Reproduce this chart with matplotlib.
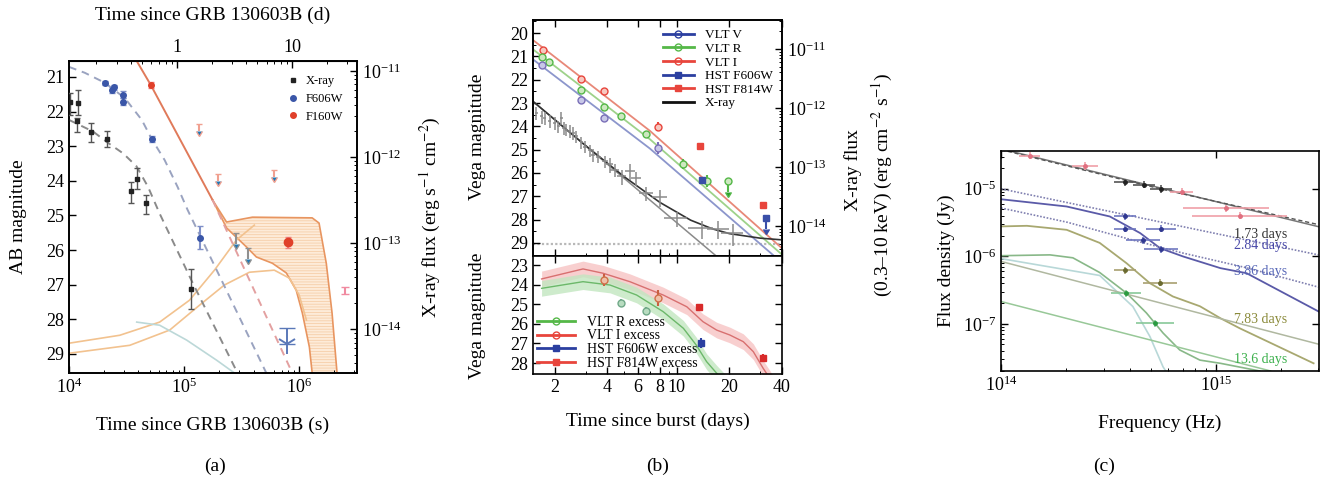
import matplotlib.pyplot as plt
import numpy as np
from matplotlib.ticker import FixedLocator, FuncFormatter, MultipleLocator, NullFormatter, LogLocator
from matplotlib.lines import Line2D

plt.rcParams['font.family'] = ['Liberation Serif', 'DejaVu Serif']
plt.rcParams['mathtext.fontset'] = 'stix'
plt.rcParams['font.size'] = 13
plt.rcParams['hatch.linewidth'] = 0.5

# ---------------- panel (a) data ----------------
xray_a_t = [1.02e4, 1.19e4, 1.17e4, 1.55e4, 2.12e4, 3.42e4, 3.93e4, 4.70e4, 1.15e5]
xray_a_f = [4.4e-12, 4.2e-12, 2.6e-12, 1.97e-12, 1.62e-12, 4.0e-13, 5.5e-13, 2.9e-13, 2.9e-14]
xray_a_lo = [3.1e-12, 3.1e-12, 1.95e-12, 1.49e-12, 1.31e-12, 2.9e-13, 4.2e-13, 2.2e-13, 1.7e-14]
xray_a_hi = [5.5e-12, 6.0e-12, 2.8e-12, 2.5e-12, 2.0e-12, 5.1e-13, 7.4e-13, 3.6e-13, 5.0e-14]
xray_a_lim_t = [2.79e5, 3.61e5]
xray_a_lim_f = [1.3e-13, 8.7e-14]

f606w_t = [2.05e4, 2.34e4, 2.47e4, 2.95e4, 2.97e4, 5.22e4, 1.36e5]
f606w_m = [21.18, 21.38, 21.30, 21.52, 21.71, 22.79, 25.64]
f606w_e = [0.06, 0.08, 0.08, 0.10, 0.10, 0.08, 0.33]
f606w_lim_t = [7.83e5]
f606w_lim_m = [28.25]

f160w_t = [5.12e4]
f160w_m = [21.23]
f160w_e = [0.08]
f160w_late_t = [7.89e5]
f160w_late_m = [25.78]
f160w_late_e = [0.15]
f160w_lim_t = [1.34e5, 1.95e5, 6.03e5]
f160w_lim_m = [22.35, 23.80, 23.70]
late_t = [2.49e6]
late_m = [27.16]
late_e = [0.1]

# model curves (a)
xmod_t = [1.0e4, 1.62e4, 2.19e4, 2.95e4, 3.85e4, 4.85e4, 6.12e4, 1.19e5, 2.92e5]
xmod_f = [2.69e-12, 1.97e-12, 1.45e-12, 1.10e-12, 7.8e-13, 4.5e-13, 2.2e-13, 3.4e-14, 3.05e-15]
bmod_t = [1.0e4, 1.37e4, 2.05e4, 3.05e4, 4.28e4, 5.22e4, 6.76e4, 8.77e4, 1.07e5, 5.16e5]
bmod_m = [20.71, 20.88, 21.17, 21.61, 22.24, 22.79, 23.40, 24.18, 24.84, 29.55]
rmod_t = [3.87e4, 5.12e4, 1.76e5]
rmod_m = [20.54, 21.23, 24.55]
rdash_t = [1.76e5, 8.67e5]
rdash_m = [24.55, 29.55]
kn_up_t = [1.76e5, 2.33e5, 3.91e5, 1.29e6, 1.48e6, 1.71e6, 1.92e6, 2.12e6]
kn_up_m = [24.55, 25.19, 25.05, 25.07, 25.22, 26.38, 27.82, 29.55]
kn_lo_t = [1.76e5, 2.33e5, 3.47e5, 4.23e5, 5.82e5, 7.69e5, 9.38e5, 1.06e6, 1.22e6, 1.29e6]
kn_lo_m = [24.55, 25.36, 25.91, 26.20, 26.38, 26.66, 27.16, 27.82, 28.80, 29.55]
orA_t = [1.0e4, 2.76e4, 6.12e4, 1.11e5, 1.83e5, 2.84e5, 4.06e5]
orA_m = [28.69, 28.46, 28.08, 27.45, 26.58, 25.71, 25.28]
orB_t = [1.0e4, 3.37e4, 7.48e4, 1.36e5, 2.23e5, 3.68e5, 6.05e5, 8.17e5, 9.95e5, 1.15e6]
orB_m = [28.98, 28.75, 28.31, 27.59, 27.01, 26.64, 26.58, 26.81, 27.30, 28.02]
cy_t = [3.87e4, 6.12e4, 1.05e5, 1.91e5, 2.73e5]
cy_m = [28.08, 28.17, 28.60, 29.18, 29.55]

# ---------------- panel (b) data ----------------
vltI_d = [1.71, 2.81, 3.82, 7.82]
vltI_m = [20.72, 21.97, 22.48, 24.02]
vltI_e = [0.08, 0.1, 0.1, 0.2]
vltR_d = [1.70, 1.85, 2.81, 3.82, 4.77, 6.70, 10.8, 14.8]
vltR_m = [21.03, 21.26, 22.46, 23.18, 23.55, 24.32, 25.62, 26.35]
vltR_e = [0.08, 0.08, 0.1, 0.1, 0.1, 0.1, 0.2, 0.25]
vltR_lim_d = [19.7]
vltR_lim_m = [26.35]
vltV_d = [1.70, 2.81, 3.82, 7.82]
vltV_m = [21.36, 22.89, 23.65, 24.92]
vltV_e = [0.08, 0.1, 0.1, 0.25]
f606_d = [13.85]
f606_m = [26.28]
f606_lim_d = [32.2]
f606_lim_m = [27.95]
f814_d = [13.55, 31.3]
f814_m = [24.84, 27.38]
mag_floor = 29.05

xr_d = [1.57, 1.68, 1.75, 1.87, 2.00, 2.09, 2.18, 2.25, 2.33, 2.44, 2.55, 2.66, 2.84, 2.97, 3.17,
        3.31, 3.54, 3.87, 4.13, 4.41, 4.82, 5.38, 5.87, 6.70, 8.0, 9.96, 13.9, 17.3, 20.9]
xr_f13 = [8.2, 7.2, 6.8, 6.0, 5.6, 4.9, 6.8, 4.6, 4.3, 4.1, 3.8, 3.3, 2.6, 2.2, 1.9,
          1.6, 1.5, 1.26, 1.1, 0.89, 0.69, 0.85, 0.65, 0.36, 0.31, 0.135, 0.091, 0.089, 0.076]
xr_fe13 = [2.0, 1.8, 1.7, 1.5, 1.4, 1.2, 1.7, 1.1, 1.0, 1.0, 0.9, 0.8, 0.6, 0.5, 0.45,
           0.4, 0.35, 0.3, 0.3, 0.22, 0.2, 0.25, 0.18, 0.1, 0.1, 0.04, 0.03, 0.03, 0.03]
xr_de = [0.03, 0.03, 0.03, 0.03, 0.04, 0.04, 0.04, 0.04, 0.05, 0.05, 0.05, 0.06, 0.06, 0.08, 0.08,
         0.1, 0.12, 0.15, 0.2, 0.25, 0.3, 0.35, 0.4, 0.6, 0.8, 1.5, 2.3, 2.5, 3.0]

xfit_d = [1.5, 3, 5, 8, 12, 16, 20, 30, 40]
xfit_f = [1.29e-12, 2.3e-13, 6.8e-14, 2.5e-14, 1.25e-14, 8.9e-15, 7.4e-15, 6.2e-15, 5.8e-15]
xpl_d = [1.5, 20]
xpl_f = [1.29e-12, 2.0e-15]
line_d = [1.5, 7, 40]
lineI_m = [20.30, 24.19, 29.23]
lineR_m = [20.70, 24.55, 29.50]
lineV_m = [21.13, 24.95, 29.85]

# lower (b): excess
exI_d = [3.82, 7.82]
exI_m = [23.77, 24.70]
exI_e = [0.3, 0.4]
exR_d = [4.77, 6.70]
exR_m = [24.92, 25.35]
exR_e = [0.2, 0.2]
ex814_d = [13.4, 31.2]
ex814_m = [25.13, 27.73]
ex814_e = [0.1, 0.2]
ex606_d = [13.7]
ex606_m = [26.99]
ex606_e = [0.25]
knI_d = [1.68, 2.90, 3.78, 5.38, 8.35, 11.4, 14.1, 16.9, 20.1, 24.0, 27.4, 31.2, 34.0, 37.0]
knI_m = [23.71, 23.20, 23.42, 23.85, 24.53, 25.13, 25.89, 26.32, 26.57, 26.91, 27.42, 28.27, 28.77, 29.3]
knR_d = [1.68, 2.90, 4.14, 5.88, 8.35, 10.9, 12.9, 14.8, 16.9, 19.0]
knR_m = [24.19, 23.85, 24.02, 24.53, 25.38, 26.23, 27.08, 27.93, 28.52, 29.0]
band_w = 0.4

# ---------------- panel (c) data ----------------
sed_red_nu = [1.36e14, 2.46e14, 6.92e14, 1.12e15, 1.29e15]
sed_red_f = [3.1e-5, 2.19e-5, 9.1e-6, 5.2e-6, 4.0e-6]
sed_red_dx = [0.05, 0.06, 0.055, 0.2, 0.22]
sed_blk_nu = [3.78e14, 4.62e14, 5.55e14]
sed_blk_f = [1.26e-5, 1.15e-5, 1.0e-5]
sed_blk_dx = [0.05, 0.05, 0.05]
sed_blu_nu = [3.78e14, 3.78e14, 5.55e14, 4.59e14, 5.55e14]
sed_blu_f = [3.9e-6, 2.57e-6, 2.57e-6, 1.74e-6, 1.29e-6]
sed_blu_dx = [0.05, 0.05, 0.07, 0.08, 0.08]
sed_olv_nu = [3.78e14, 5.5e14]
sed_olv_f = [6.3e-7, 4.07e-7]
sed_olv_dx = [0.05, 0.08]
sed_grn_nu = [3.8e14, 5.2e14]
sed_grn_f = [2.85e-7, 1.02e-7]
sed_grn_dx = [0.07, 0.09]

c1_nu = [1e14, 5.5e14, 3.0e15]
c1_f = [3.9e-5, 1.03e-5, 2.75e-6]
c1b_f = [3.8e-5, 1.0e-5, 2.95e-6]
c2_nu = [1e14, 3.0e15]
c2_f = [1.0e-5, 1.05e-6]
c3_nu = [9.9e13, 2.02e14, 3.21e14, 4.44e14, 5.50e14, 7.05e14, 1.05e15, 1.39e15, 3.01e15]
c3_f = [7.03e-6, 5.47e-6, 3.89e-6, 2.21e-6, 1.32e-6, 9.93e-7, 6.68e-7, 5.62e-7, 1.52e-7]
c4_nu = [1e14, 2.03e14, 4.1e14, 7.0e14, 1.38e15, 3.0e15]
c4_f = [5.2e-6, 3.2e-6, 1.74e-6, 1.12e-6, 6.8e-7, 3.5e-7]
c5_nu = [9.9e13, 1.32e14, 2.02e14, 2.88e14, 3.84e14, 4.93e14, 6.31e14, 8.43e14, 1.05e15, 1.29e15, 2.85e15]
c5_f = [2.77e-6, 2.83e-6, 2.47e-6, 1.58e-6, 7.9e-7, 4.0e-7, 2.54e-7, 1.82e-7, 1.21e-7, 8.6e-8, 2.6e-8]
c6_nu = [9.9e13, 1.69e14, 2.16e14, 2.88e14, 3.84e14, 4.75e14, 5.68e14, 6.79e14, 8.43e14, 1.05e15, 1.6e15]
c6_f = [1.02e-6, 1.05e-6, 9.5e-7, 5.75e-7, 2.85e-7, 1.45e-7, 7.3e-8, 4.1e-8, 2.9e-8, 2.6e-8, 2.0e-8]
c7_nu = [9.9e13, 2.88e14, 4.11e14, 4.93e14, 5.68e14, 6.2e14]
c7_f = [9.3e-7, 5.2e-7, 1.8e-7, 6.5e-8, 2.3e-8, 1.5e-8]
c8_nu = [1e14, 3.0e15]
c8_f = [8.4e-7, 5.0e-8]
c9_nu = [1e14, 1.8e15]
c9_f = [2.14e-7, 2.0e-8]
day_labels = ['1.73 days', '2.84 days', '3.86 days', '7.83 days', '13.6 days']
day_label_f = [2.1e-6, 1.44e-6, 5.96e-7, 1.15e-7, 2.93e-8]
day_label_nu = 1.21e15

# ---------------- figure ----------------
W, H = 1330, 479
fig = plt.figure(figsize=(W / 100, H / 100), dpi=100)


def box(x0, y0, x1, y1):
    return [x0 / W, 1 - y1 / H, (x1 - x0) / W, (y1 - y0) / H]


def style(ax):
    ax.tick_params(which='both', direction='in', labelsize=13)
    ax.tick_params(which='major', length=5, width=1)
    ax.tick_params(which='minor', length=2.5, width=0.7)
    for s in ax.spines.values():
        s.set_linewidth(1.2)


plain = FuncFormatter(lambda v, p: f'{v:g}')
BLUE = '#3a56a8'
RED = '#e0402a'
ORANGE = '#e89560'

# ---- (a) ----
ax = fig.add_axes(box(69, 61, 357, 373))
ax.set_xscale('log')
ax.set_xlim(1e4, 3.16e6)
ax.set_ylim(29.55, 20.54)
ax.yaxis.set_major_locator(MultipleLocator(1))
style(ax)
ax.tick_params(top=False, right=False)

kx = np.concatenate([kn_up_t, kn_lo_t[::-1]])
ky = np.concatenate([kn_up_m, kn_lo_m[::-1]])
ax.fill(kx, ky, facecolor='#fdebd9', edgecolor='#f5c9a0', hatch='------', linewidth=0, zorder=1)
ax.plot(kn_up_t, kn_up_m, color=ORANGE, lw=1.2, zorder=2)
ax.plot(kn_lo_t, kn_lo_m, color=ORANGE, lw=1.2, zorder=2)
ax.plot(orA_t, orA_m, color='#f2c28f', lw=1.2, zorder=2)
ax.plot(orB_t, orB_m, color='#f2c28f', lw=1.2, zorder=2)
ax.plot(cy_t, cy_m, color='#bcd8d8', lw=1.2, zorder=2)
ax.plot(bmod_t, bmod_m, color='#9aa3c0', lw=1.4, ls=(0, (4, 3)), zorder=2)
ax.plot(rmod_t, rmod_m, color='#e07a5a', lw=1.4, zorder=2)
ax.plot(rdash_t, rdash_m, color='#e3a0a0', lw=1.4, ls=(0, (4, 3)), zorder=2)

ax.errorbar(f606w_t, f606w_m, yerr=f606w_e, fmt='o', ms=4, color=BLUE, ecolor='#7f8fc8', capsize=2, zorder=4)
# upper limit: bar + open arrow head
ax.errorbar(f606w_lim_t, f606w_lim_m, yerr=[[0], [0.45]], fmt='none', ecolor='#5a78b8',
            capsize=6, elinewidth=1.4, zorder=4)
ax.plot(f606w_lim_t, np.array(f606w_lim_m) + 0.45, ls='none', marker='1', ms=14, mew=1.4,
        color='#5a78b8', zorder=4)
ax.errorbar(f160w_t, f160w_m, yerr=f160w_e, fmt='o', ms=4, color=RED, ecolor='#f08080', capsize=2, zorder=4)
ax.errorbar(f160w_late_t, f160w_late_m, yerr=f160w_late_e, fmt='o', ms=6, color=RED, ecolor='#f08080',
            capsize=2, zorder=4)
ax.errorbar(f160w_lim_t, f160w_lim_m, yerr=0.2, lolims=True, fmt='none', ecolor='#f0a090',
            capsize=2.5, zorder=4)
ax.errorbar(late_t, late_m, yerr=late_e, fmt='none', ecolor='#f08aa0', capsize=3, zorder=4)
ax.set_ylabel('AB magnitude', fontsize=14, labelpad=14)
ax.set_xlabel('Time since GRB 130603B (s)', fontsize=14, labelpad=14)

axf = ax.twinx()
axf.set_yscale('log')
axf.set_ylim(3.1e-15, 1.3e-11)
style(axf)
axf.tick_params(left=False, top=False, bottom=False)
axf.yaxis.set_major_locator(FixedLocator([1e-14, 1e-13, 1e-12, 1e-11]))
axf.yaxis.set_minor_formatter(NullFormatter())
axf.plot(xmod_t, xmod_f, color='#8a8a8a', lw=1.4, ls=(0, (4, 3)), zorder=2)
yerr = [np.array(xray_a_f) - np.array(xray_a_lo), np.array(xray_a_hi) - np.array(xray_a_f)]
axf.errorbar(xray_a_t, xray_a_f, yerr=yerr, fmt='s', ms=2.5, color='#222222', ecolor='#555555',
             capsize=2, elinewidth=1, zorder=4)
axf.errorbar(xray_a_lim_t, xray_a_lim_f, yerr=np.array(xray_a_lim_f) * 0.25, uplims=True, fmt='none',
             ecolor='#909090', capsize=2.5, zorder=4)
axf.set_ylabel('X-ray flux (erg s$^{-1}$ cm$^{-2}$)', fontsize=14, labelpad=12)

sec = ax.secondary_xaxis('top', functions=(lambda s: s / 86400.0, lambda d: d * 86400.0))
sec.xaxis.set_major_locator(FixedLocator([1, 10]))
sec.xaxis.set_major_formatter(plain)
sec.xaxis.set_minor_locator(FixedLocator([0.2, 0.3, 0.4, 0.5, 0.6, 0.7, 0.8, 0.9, 2, 3, 4, 5, 6, 7, 8, 9, 20, 30]))
sec.xaxis.set_minor_formatter(NullFormatter())
sec.tick_params(which='both', direction='in', labelsize=13)
sec.tick_params(which='major', length=5, width=1)
sec.tick_params(which='minor', length=2.5, width=0.7)
sec.set_xlabel('Time since GRB 130603B (d)', fontsize=14, labelpad=14)

hands = [Line2D([], [], ls='none', marker='s', ms=3, color='#222222'),
         Line2D([], [], ls='none', marker='o', ms=4, color=BLUE),
         Line2D([], [], ls='none', marker='o', ms=4, color=RED)]
ax.legend(hands, ['X-ray', 'F606W', 'F160W'], loc='upper right', fontsize=9, frameon=False,
          handlelength=0.8, handletextpad=0.6, labelspacing=0.45, bbox_to_anchor=(0.99, 0.99))

# ---- (b) upper ----
bu = fig.add_axes(box(533, 20, 782, 256))
bu.set_xscale('log')
bu.set_xlim(1.5, 40)
bu.set_ylim(29.56, 19.44)
bu.yaxis.set_major_locator(MultipleLocator(1))
bu.yaxis.set_minor_locator(MultipleLocator(0.5))
bu.xaxis.set_major_locator(FixedLocator([2, 4, 6, 8, 10, 20, 40]))
bu.xaxis.set_minor_locator(FixedLocator([3, 5, 7, 9, 30]))
bu.xaxis.set_major_formatter(NullFormatter())
bu.xaxis.set_minor_formatter(NullFormatter())
style(bu)
bu.tick_params(top=True, right=False)
bu.axhline(mag_floor, color='#b8b8b8', lw=1.6, ls=(0, (1, 1)), zorder=1)

GREEN = '#55b848'
VRED = '#e8453c'
VBLUE = '#3a4fa8'
bu.plot(line_d, lineI_m, color='#e88878', lw=1.3, zorder=2)
bu.plot(line_d, lineR_m, color='#9ed28a', lw=1.3, zorder=2)
bu.plot(line_d, lineV_m, color='#8c96cc', lw=1.3, zorder=2)
bu.errorbar(vltI_d, vltI_m, yerr=vltI_e, fmt='o', mfc='#f6c8c0', mec=VRED, ms=5, ecolor=VRED, zorder=4)
bu.errorbar(vltR_d, vltR_m, yerr=vltR_e, fmt='o', mfc='#cde8c0', mec=GREEN, ms=5, ecolor=GREEN, zorder=4)
bu.errorbar(vltR_lim_d, vltR_lim_m, yerr=0.45, lolims=True, fmt='o', mfc='#cde8c0', mec=GREEN, ms=5,
            ecolor=GREEN, capsize=2.5, zorder=4)
bu.errorbar(vltV_d, vltV_m, yerr=vltV_e, fmt='o', mfc='#c8c8e8', mec='#7a6fb8', ms=5, ecolor='#7a6fb8', zorder=4)
bu.errorbar(f606_d, f606_m, yerr=0.1, fmt='s', color=VBLUE, ms=4.5, zorder=4)
bu.errorbar(f606_lim_d, f606_lim_m, yerr=0.45, lolims=True, fmt='s', color=VBLUE, ms=4.5, capsize=2.5, zorder=4)
bu.errorbar(f814_d, f814_m, yerr=0.1, fmt='s', color=VRED, ms=4.5, zorder=4)

bf = bu.twinx()
bf.set_yscale('log')
bf.set_ylim(10 ** -14.51, 10 ** -10.51)
style(bf)
bf.tick_params(left=False, top=False, bottom=False)
bf.yaxis.set_major_locator(FixedLocator([1e-14, 1e-13, 1e-12, 1e-11]))
bf.yaxis.set_minor_formatter(NullFormatter())
bf.plot(xpl_d, xpl_f, color='#8a8a8a', lw=1.1, zorder=2)
bf.plot(xfit_d, xfit_f, color='#333333', lw=1.2, zorder=2)
xr_f = np.array(xr_f13) * 1e-13
bf.errorbar(xr_d, xr_f, yerr=np.array(xr_fe13) * 1e-13, xerr=xr_de, fmt='none', ecolor='#8a8a8a',
            elinewidth=1.1, zorder=3)

bh = [Line2D([], [], color='#2b3fa0', lw=2, marker='o', mfc='none', mec='#2b3fa0', ms=5),
      Line2D([], [], color=GREEN, lw=2, marker='o', mfc='none', mec=GREEN, ms=5),
      Line2D([], [], color=VRED, lw=2, marker='o', mfc='none', mec=VRED, ms=5),
      Line2D([], [], color='#2b3fa0', lw=2, marker='s', ms=4),
      Line2D([], [], color=VRED, lw=2, marker='s', ms=4),
      Line2D([], [], color='#111111', lw=2)]
bu.legend(bh, ['VLT V', 'VLT R', 'VLT I', 'HST F606W', 'HST F814W', 'X-ray'], loc='upper right',
          fontsize=9.5, frameon=False, handlelength=2.4, handletextpad=0.8, labelspacing=0.1,
          borderaxespad=0.3)

# ---- (b) lower ----
bl = fig.add_axes(box(533, 256, 782, 374))
bl.set_xscale('log')
bl.set_xlim(1.5, 40)
bl.set_ylim(28.56, 22.54)
bl.yaxis.set_major_locator(MultipleLocator(1))
bl.xaxis.set_major_locator(FixedLocator([2, 4, 6, 8, 10, 20, 40]))
bl.xaxis.set_minor_locator(FixedLocator([3, 5, 7, 9, 30]))
bl.xaxis.set_major_formatter(plain)
bl.xaxis.set_minor_formatter(NullFormatter())
style(bl)
bl.tick_params(top=True, right=True)
bl.fill_between(knI_d, np.array(knI_m) - band_w, np.array(knI_m) + band_w, color='#f7c4c4', lw=0, alpha=0.8)
bl.fill_between(knR_d, np.array(knR_m) - band_w, np.array(knR_m) + band_w, color='#c2e6c0', lw=0, alpha=0.8)
bl.plot(knI_d, knI_m, color='#d87070', lw=1)
bl.plot(knR_d, knR_m, color='#6cb86a', lw=1)
bl.errorbar(exI_d, exI_m, yerr=exI_e, fmt='o', mfc='#f0c0a8', mec='#d0704a', ms=5, ecolor='#c86040', zorder=4)
bl.errorbar(exR_d, exR_m, yerr=exR_e, fmt='o', mfc='#b8dcc0', mec='#70a888', ms=5, ecolor='#70a888', zorder=4)
bl.errorbar(ex814_d, ex814_m, yerr=ex814_e, fmt='s', color='#d82a2a', ms=4.5, zorder=4)
bl.errorbar(ex606_d, ex606_m, yerr=ex606_e, fmt='s', color='#2b3fa0', ms=4.5, zorder=4)
bl.set_xlabel('Time since burst (days)', fontsize=14, labelpad=12)
lh = [Line2D([], [], color=GREEN, lw=2, marker='o', mfc='none', mec=GREEN, ms=5),
      Line2D([], [], color=VRED, lw=2, marker='o', mfc='none', mec=VRED, ms=5),
      Line2D([], [], color='#2b3fa0', lw=2, marker='s', ms=4),
      Line2D([], [], color=VRED, lw=2, marker='s', ms=4)]
bl.legend(lh, ['VLT R excess', 'VLT I excess', 'HST F606W excess', 'HST F814W excess'], loc='lower left',
          fontsize=10, frameon=False, handlelength=2.7, handletextpad=0.9, labelspacing=0.05,
          borderaxespad=0.1, borderpad=0.2)

fig.text(478 / W, 1 - 137 / H, 'Vega magnitude', rotation=90, ha='center', va='center', fontsize=14)
fig.text(478 / W, 1 - 316 / H, 'Vega magnitude', rotation=90, ha='center', va='center', fontsize=14)
fig.text(853 / W, 1 - 170 / H, 'X-ray flux', rotation=90, ha='center', va='center', fontsize=14)
fig.text(882 / W, 1 - 185 / H, '(0.3–10 keV) (erg cm$^{-2}$ s$^{-1}$)', rotation=90, ha='center',
         va='center', fontsize=14)

# ---- (c) ----
cx = fig.add_axes(box(1001, 151, 1319, 371))
cx.set_xscale('log')
cx.set_yscale('log')
cx.set_xlim(1e14, 3.02e15)
cx.set_ylim(2.0e-8, 3.63e-5)
style(cx)
cx.tick_params(top=True, right=True)
cx.plot(c1_nu, c1_f, color='#777777', lw=1.1)
cx.plot(c1_nu, c1b_f, color='#555555', lw=1.0, ls=(0, (3, 2)))
cx.plot(c2_nu, c2_f, color='#8080b0', lw=1.2, ls=(0, (1, 1)))
cx.plot(c3_nu, c3_f, color='#5a5aa8', lw=1.3)
cx.plot(c4_nu, c4_f, color='#8080b0', lw=1.2, ls=(0, (1, 1)))
cx.plot(c5_nu, c5_f, color='#a8a870', lw=1.3)
cx.plot(c6_nu, c6_f, color='#88b888', lw=1.2)
cx.plot(c7_nu, c7_f, color='#b8d8d8', lw=1.2)
cx.plot(c8_nu, c8_f, color='#b0b8a0', lw=1.1)
cx.plot(c9_nu, c9_f, color='#98c898', lw=1.1)


def sed(nu, f, dx, col, ecol):
    nu = np.array(nu)
    dx = np.array(dx)
    xe = [nu * (1 - 10 ** -dx), nu * (10 ** dx - 1)]
    cx.errorbar(nu, f, xerr=xe, yerr=np.array(f) * 0.12, fmt='o', ms=2.5, color=col, ecolor=ecol,
                elinewidth=1.2, zorder=4)


sed(sed_red_nu, sed_red_f, sed_red_dx, '#e07080', '#f0a0a8')
sed(sed_blk_nu, sed_blk_f, sed_blk_dx, '#222222', '#555555')
sed(sed_blu_nu, sed_blu_f, sed_blu_dx, '#303890', '#7078c0')
sed(sed_olv_nu, sed_olv_f, sed_olv_dx, '#6a6a30', '#a8a070')
sed(sed_grn_nu, sed_grn_f, sed_grn_dx, '#2a9a40', '#88c898')

label_cols = ['#333333', '#4848a8', '#5868b8', '#8a8a3a', '#3cb04c']
for txt, fv, col in zip(day_labels, day_label_f, label_cols):
    cx.text(day_label_nu, fv, txt, color=col, fontsize=10, ha='left', va='center')
cx.set_ylabel('Flux density (Jy)', fontsize=14, labelpad=6)
cx.set_xlabel('Frequency (Hz)', fontsize=14, labelpad=14)

fig.text(215 / W, 1 - 466 / H, '(a)', ha='center', va='center', fontsize=14)
fig.text(658 / W, 1 - 466 / H, '(b)', ha='center', va='center', fontsize=14)
fig.text(1104 / W, 1 - 466 / H, '(c)', ha='center', va='center', fontsize=14)

fig.savefig('out.png', dpi=100)
